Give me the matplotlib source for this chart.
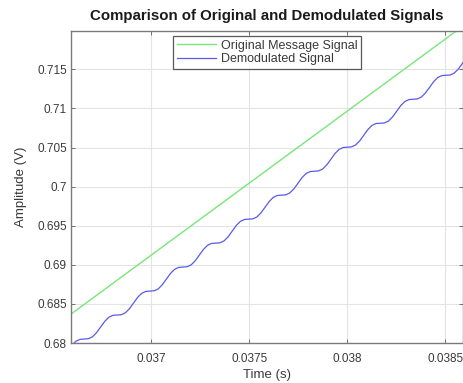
import numpy as np
import matplotlib
matplotlib.use('Agg')
import matplotlib.pyplot as plt

plt.rcParams['font.family'] = ['Liberation Sans', 'DejaVu Sans']

#%% data
# original message signal (straight ramp over this window)
msg_t = [0.03655, 0.0370, 0.0375, 0.0380, 0.0385, 0.03862]
msg_v = [0.68296, 0.69125, 0.70046, 0.70967, 0.71888, 0.72109]

# demodulated signal (staircase ripple)
demod_t = [
    0.0365734, 0.0365944, 0.0366154, 0.0366363,
    0.0366573, 0.0366783, 0.0366993, 0.0367202, 0.0367412, 0.0367622, 0.0367832, 0.0368041,
    0.0368251, 0.0368461, 0.0368671, 0.0368880, 0.0369090, 0.0369300, 0.0369510, 0.0369719,
    0.0369929, 0.0370139, 0.0370349, 0.0370558, 0.0370768, 0.0370978, 0.0371188, 0.0371397,
    0.0371607, 0.0371817, 0.0372027, 0.0372236, 0.0372446, 0.0372656, 0.0372866, 0.0373075,
    0.0373285, 0.0373495, 0.0373705, 0.0373914, 0.0374124, 0.0374334, 0.0374544, 0.0374753,
    0.0374963, 0.0375173, 0.0375383, 0.0375592, 0.0375802, 0.0376012, 0.0376222, 0.0376431,
    0.0376641, 0.0376851, 0.0377061, 0.0377270, 0.0377480, 0.0377690, 0.0377900, 0.0378109,
    0.0378319, 0.0378529, 0.0378739, 0.0378948, 0.0379158, 0.0379368, 0.0379578, 0.0379787,
    0.0379997, 0.0380207, 0.0380417, 0.0380626, 0.0380836, 0.0381046, 0.0381256, 0.0381465,
    0.0381675, 0.0381885, 0.0382095, 0.0382304, 0.0382514, 0.0382724, 0.0382934, 0.0383143,
    0.0383353, 0.0383563, 0.0383773, 0.0383982, 0.0384192, 0.0384402, 0.0384612, 0.0384821,
    0.0385031, 0.0385241, 0.0385451, 0.0385660, 0.0385870, 0.0386080,
]
demod_v = [
    0.67898, 0.67971, 0.68023, 0.68047,
    0.68051, 0.68055, 0.68079, 0.68132, 0.68204, 0.68277, 0.68330, 0.68354,
    0.68358, 0.68361, 0.68386, 0.68438, 0.68511, 0.68584, 0.68636, 0.68660,
    0.68664, 0.68668, 0.68692, 0.68745, 0.68818, 0.68890, 0.68943, 0.68967,
    0.68971, 0.68975, 0.68999, 0.69051, 0.69124, 0.69197, 0.69250, 0.69274,
    0.69277, 0.69281, 0.69305, 0.69358, 0.69431, 0.69504, 0.69556, 0.69580,
    0.69584, 0.69588, 0.69612, 0.69665, 0.69737, 0.69810, 0.69863, 0.69887,
    0.69891, 0.69894, 0.69919, 0.69971, 0.70044, 0.70117, 0.70169, 0.70193,
    0.70197, 0.70201, 0.70225, 0.70278, 0.70350, 0.70423, 0.70476, 0.70500,
    0.70504, 0.70508, 0.70532, 0.70584, 0.70657, 0.70730, 0.70783, 0.70807,
    0.70810, 0.70814, 0.70838, 0.70891, 0.70964, 0.71037, 0.71089, 0.71113,
    0.71117, 0.71121, 0.71145, 0.71198, 0.71270, 0.71343, 0.71396, 0.71420,
    0.71424, 0.71427, 0.71452, 0.71504, 0.71577, 0.71650,
]

xtick_vals = [0.037, 0.0375, 0.038, 0.0385]
xtick_labels = ['0.037', '0.0375', '0.038', '0.0385']
ytick_vals = [0.68, 0.685, 0.69, 0.695, 0.70, 0.705, 0.71, 0.715]
ytick_labels = ['0.68', '0.685', '0.69', '0.695', '0.7', '0.705', '0.71', '0.715']

#%% plot
fig = plt.figure(figsize=(4.64, 3.83), dpi=100)
ax = fig.add_axes([0.153, 0.1044, 0.845, 0.8147])

ax.plot(msg_t, msg_v, color='#78e678', lw=1.0, label='Original Message Signal')
ax.plot(demod_t, demod_v, color='#5a5ae8', lw=0.9, label='Demodulated Signal')

ax.set_xlim(0.03659, 0.03859)
ax.set_ylim(0.68, 0.7199)
ax.set_xticks(xtick_vals)
ax.set_xticklabels(xtick_labels)
ax.set_yticks(ytick_vals)
ax.set_yticklabels(ytick_labels)

ax.grid(True, color='#e4e4e4', lw=0.8)
ax.set_axisbelow(True)
ax.tick_params(direction='in', length=3, width=0.7, colors='#707070',
               labelcolor='#3a3a3a', labelsize=8.5, top=True, right=True)
ax.tick_params(axis='x', pad=7)
ax.tick_params(axis='y', pad=3)
for s in ax.spines.values():
    s.set_color('#7a7a7a')
    s.set_linewidth(1.0)

ax.set_xlabel('Time (s)', fontsize=9.5, color='#3a3a3a', labelpad=3)
ax.set_ylabel('Amplitude (V)', fontsize=9.5, color='#3a3a3a', labelpad=7)
ax.set_title('Comparison of Original and Demodulated Signals', fontsize=10.8,
             fontweight='bold', color='#1a1a1a', pad=8)

leg = ax.legend(loc='upper center', fontsize=9, frameon=True, fancybox=False,
                borderpad=0.3, handlelength=3.1, handletextpad=0.4,
                labelspacing=0.12, borderaxespad=0.4)
leg.get_frame().set_edgecolor('#303030')
leg.get_frame().set_linewidth(0.9)
for t in leg.get_texts():
    t.set_color('#3a3a3a')

fig.savefig('out.png', dpi=100)
